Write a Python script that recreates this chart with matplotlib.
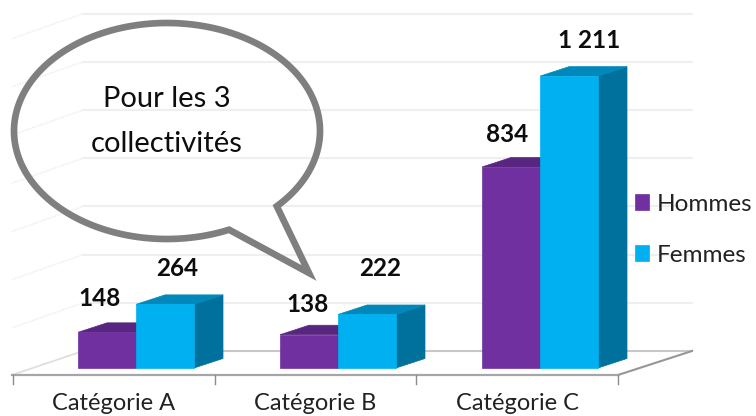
import numpy as np
import matplotlib
matplotlib.use("Agg")
import matplotlib.pyplot as plt
from matplotlib.patches import Polygon, PathPatch
from matplotlib.path import Path

# Data
categories = ["Catégorie A", "Catégorie B", "Catégorie C"]
hommes = [148, 138, 834]
femmes = [264, 222, 1211]
hommes_labels = ["148", "138", "834"]
femmes_labels = ["264", "222", "1 211"]
grid_values = [200, 400, 600, 800, 1000, 1200, 1400]

# Layout, in pixels of the 756x416 picture
W, H = 756, 416
BASE = 368          # pixel row of value 0 on the bar fronts
SCALE = 0.241       # pixels per unit
START = 136         # centre of first group
STEP = 202          # distance between groups
BAR = 58
DX, DY = 29, 9.5    # depth of the bars


def v(py):
    # pixel row to value
    return (BASE - py) / SCALE


plt.rcParams["font.family"] = ["Lato", "DejaVu Sans"]
fig = plt.figure(figsize=(W / 100, H / 100), dpi=100)
ax = fig.add_axes([0, 0, 1, 1])
ax.set_xlim(0, W)
ax.set_ylim(v(H), v(0))
ax.axis("off")

# Back wall gridlines and their slanted part on the side wall
for g in grid_values:
    y = v(BASE - 17) + g
    ax.plot([83, 692], [y, y], color="#efefef", lw=1.5, zorder=1)
    ax.plot([12, 83], [y - 25 / SCALE, y], color="#f0f0f0", lw=1.2, ls=(0, (1, 0.6)), zorder=1)

# Floor
floor_back = v(351)
floor_front = v(375)
ax.plot([83, 692], [floor_back, floor_back], color="#c8c8c8", lw=1.5, zorder=1)
ax.plot([12, 83], [floor_front, floor_back], color="#dddddd", lw=1.2, zorder=1)
ax.plot([618, 692], [floor_front, floor_back], color="#969696", lw=1.5, zorder=1)
ax.plot([12, 618], [floor_front, floor_front], color="#a6a6a6", lw=1.6, zorder=1)
for i in range(len(categories) + 1):
    xt = 13 + 201.7 * i
    ax.plot([xt, xt], [floor_front, v(384)], color="#8c8c8c", lw=1, zorder=1)
for i, c in enumerate(categories):
    ax.text(13 + 201.7 * (i + 0.5), v(403), c, ha="center", va="center",
            fontsize=17, color="#222222")


def bar3d(left, value, front, top, side, z):
    dy = DY / SCALE
    right = left + BAR
    ax.add_patch(Polygon([(right, 0), (right + DX, dy), (right + DX, value + dy), (right, value)],
                         closed=True, fc=side, ec=side, lw=0.5, zorder=z))
    ax.add_patch(Polygon([(left, value), (left + DX, value + dy), (right + DX, value + dy), (right, value)],
                         closed=True, fc=top, ec=top, lw=0.5, zorder=z))
    return ax.bar(left, value, BAR, align="edge", color=front, edgecolor=front, lw=0.5, zorder=z + 0.5)


handles = [None, None]
for i in range(len(categories)):
    x0 = START + STEP * i
    handles[0] = bar3d(x0 - BAR, hommes[i], "#7030a0", "#582680", "#4e2270", 2)
    handles[1] = bar3d(x0, femmes[i], "#00b0f0", "#0088bb", "#00709c", 3)

# Value labels were placed by hand in the original: offsets from bar top
hommes_off = [(-7, -34), (-1, -30), (-4, -33)]
femmes_off = [(12, -36), (13, -46), (20, -36)]
for i in range(len(categories)):
    x0 = START + STEP * i
    ax.text(x0 - BAR / 2 + hommes_off[i][0], hommes[i] - hommes_off[i][1] / SCALE, hommes_labels[i],
            ha="center", va="center", fontsize=17.5, fontweight="bold", color="#0d0d0d", zorder=6)
    ax.text(x0 + BAR / 2 + femmes_off[i][0], femmes[i] - femmes_off[i][1] / SCALE, femmes_labels[i],
            ha="center", va="center", fontsize=17.5, fontweight="bold", color="#0d0d0d", zorder=6)

# Legend
ax.legend(handles, ["Hommes", "Femmes"], loc="upper left", bbox_to_anchor=(625 / W, 1 - 184 / H),
          frameon=False, fontsize=17.5, handlelength=0.6, handleheight=0.65,
          handletextpad=0.3, labelspacing=1.23, borderpad=0.4, borderaxespad=0,
          labelcolor="#222222")

# Speech bubble (not filled: the gridlines show through it)
cx, cy, a, b = 167, 131, 153, 108
start = np.arctan2((205 - cy) / b, (275 - cx) / a)
end = np.arctan2((228 - cy) / b, (228 - cx) / a)
# go the long way round from the tail's right side to its left side
t = np.linspace(start, end - 2 * np.pi, 200) if end > start else np.linspace(start, end, 200)
px = cx + a * np.cos(t)
py = cy + b * np.sin(t)
pts = list(zip(px, v(py))) + [(309, v(273))]
codes = [Path.MOVETO] + [Path.LINETO] * (len(pts) - 1) + [Path.CLOSEPOLY]
ax.add_patch(PathPatch(Path(pts + [pts[0]], codes), fc="none", ec="#7f7f7f", lw=4.8,
                       joinstyle="miter", zorder=7))
ax.text(167, v(99), "Pour les 3", ha="center", va="center", fontsize=21, color="#0d0d0d", zorder=8)
ax.text(167, v(144), "collectivités", ha="center", va="center", fontsize=21, color="#0d0d0d", zorder=8)

fig.savefig("out.png", dpi=100)
